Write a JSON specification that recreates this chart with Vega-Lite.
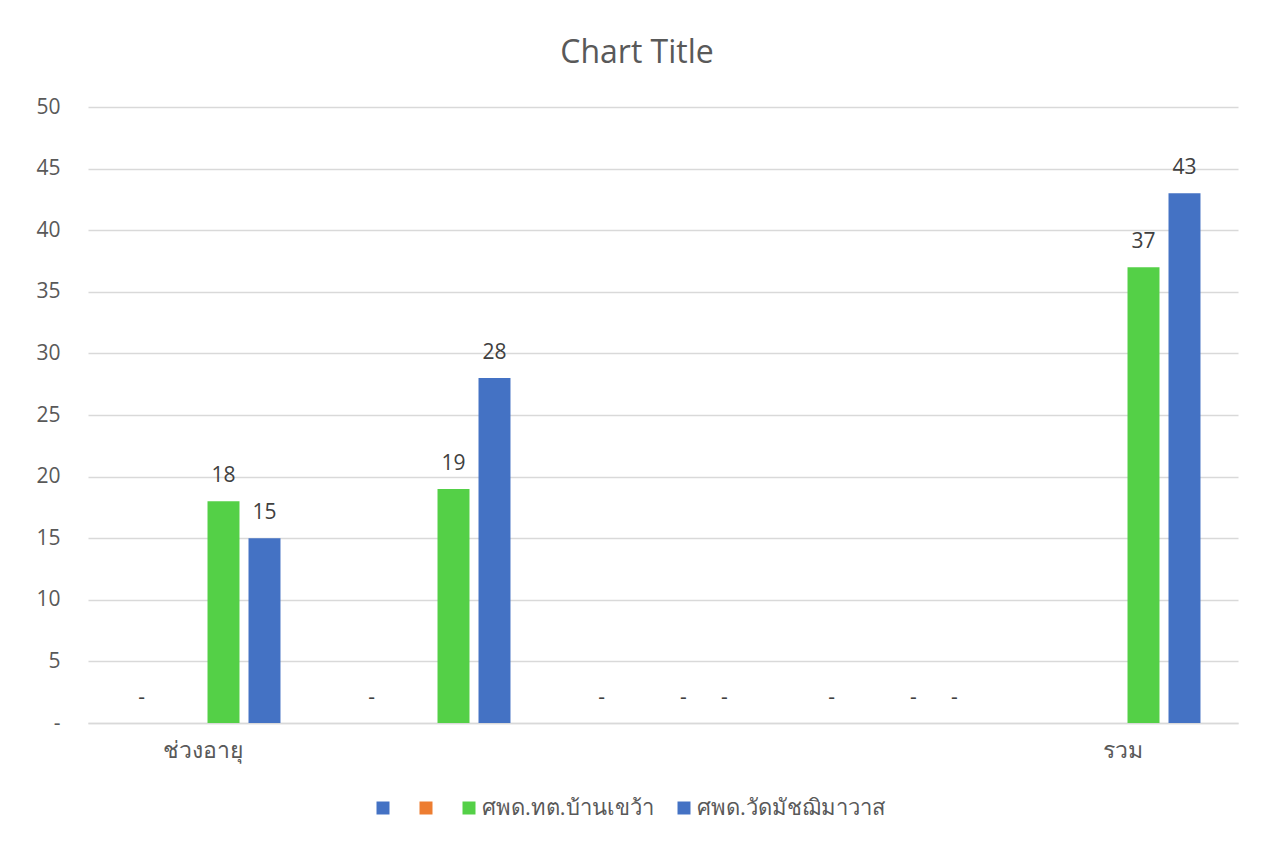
{
  "$schema": "https://vega.github.io/schema/vega-lite/v6.json",
  "width": 1150,
  "height": 616,
  "autosize": {"type": "none"},
  "padding": {"left": 88, "top": 107, "right": 26, "bottom": 118},
  "background": "white",
  "config": {
    "font": "Open Sans",
    "view": {"stroke": null}
  },
  "title": {
    "text": "Chart Title",
    "fontSize": 32,
    "fontWeight": "normal",
    "color": "#595959",
    "anchor": "middle",
    "dx": -26,
    "baseline": "alphabetic",
    "offset": 1
  },
  "data": {
    "values": [
      {"cat": "ช่วงอายุ", "series": "s1", "value": 0},
      {"cat": "g2", "series": "s1", "value": 0},
      {"cat": "g3", "series": "s1", "value": 0},
      {"cat": "g4", "series": "s1", "value": 0},
      {"cat": "ช่วงอายุ", "series": "ศพด.ทต.บ้านเขว้า", "value": 18},
      {"cat": "g2", "series": "ศพด.ทต.บ้านเขว้า", "value": 19},
      {"cat": "g3", "series": "ศพด.ทต.บ้านเขว้า", "value": 0},
      {"cat": "g4", "series": "ศพด.ทต.บ้านเขว้า", "value": 0},
      {"cat": "รวม", "series": "ศพด.ทต.บ้านเขว้า", "value": 37},
      {"cat": "ช่วงอายุ", "series": "ศพด.วัดมัชฌิมาวาส", "value": 15},
      {"cat": "g2", "series": "ศพด.วัดมัชฌิมาวาส", "value": 28},
      {"cat": "g3", "series": "ศพด.วัดมัชฌิมาวาส", "value": 0},
      {"cat": "g4", "series": "ศพด.วัดมัชฌิมาวาส", "value": 0},
      {"cat": "รวม", "series": "ศพด.วัดมัชฌิมาวาส", "value": 43}
    ]
  },
  "encoding": {
    "x": {
      "field": "cat",
      "type": "nominal",
      "sort": ["ช่วงอายุ", "g2", "g3", "g4", "รวม"],
      "scale": {"domain": ["ช่วงอายุ", "g2", "g3", "g4", "รวม"], "paddingInner": 0.287, "paddingOuter": 0.1435},
      "axis": {
        "title": null,
        "labelAngle": 0,
        "labelExpr": "datum.value == 'ช่วงอายุ' || datum.value == 'รวม' ? datum.label : ''",
        "labelFontSize": 23,
        "labelColor": "#595959",
        "labelPadding": 16,
        "ticks": false,
        "domainColor": "#D9D9D9",
        "domainWidth": 1.5,
        "grid": false
      }
    },
    "xOffset": {
      "field": "series",
      "type": "nominal",
      "scale": {"domain": ["s1", "s2", "ศพด.ทต.บ้านเขว้า", "ศพด.วัดมัชฌิมาวาส"], "paddingInner": 0.22, "paddingOuter": 0.11}
    },
    "y": {
      "field": "value",
      "type": "quantitative",
      "scale": {"domain": [0, 50], "nice": false},
      "axis": {
        "title": null,
        "values": [0, 5, 10, 15, 20, 25, 30, 35, 40, 45, 50],
        "labelExpr": "datum.value == 0 ? '-' : datum.label",
        "labelFontSize": 21,
        "labelColor": "#595959",
        "labelPadding": 28,
        "ticks": false,
        "domain": false,
        "gridColor": "#D9D9D9",
        "gridWidth": 1.5
      }
    }
  },
  "layer": [
    {
      "mark": {"type": "bar"},
      "encoding": {
        "color": {
          "field": "series",
          "type": "nominal",
          "scale": {
            "domain": ["s1", "s2", "ศพด.ทต.บ้านเขว้า", "ศพด.วัดมัชฌิมาวาส"],
            "range": ["#4472C4", "#ED7D31", "#54D047", "#4472C4"]
          },
          "legend": {
            "title": null,
            "orient": "none",
            "direction": "horizontal",
            "legendX": 284,
            "legendY": 690,
            "symbolType": "square",
            "symbolSize": 169,
            "symbolStrokeWidth": 0,
            "labelOffset": 2,
            "columnPadding": 19,
            "labelFontSize": 22,
            "labelColor": "#595959",
            "labelLimit": 0,
            "labelExpr": "datum.value == 's1' || datum.value == 's2' ? '' : datum.label"
          }
        }
      }
    },
    {
      "mark": {"type": "text", "fontSize": 21, "color": "#404040", "baseline": "alphabetic", "dy": -19},
      "encoding": {
        "text": {
          "condition": {"test": "datum.value == 0", "value": "-"},
          "field": "value",
          "type": "quantitative"
        }
      }
    }
  ]
}
